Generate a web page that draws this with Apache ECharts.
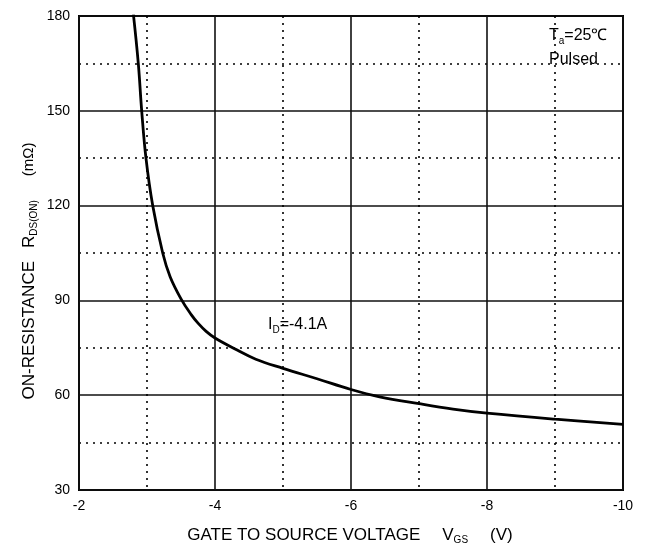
<!DOCTYPE html>
<html><head><meta charset="utf-8">
<script src="https://cdn.jsdelivr.net/npm/echarts@6/dist/echarts.min.js"></script>
<style>html,body{margin:0;padding:0;background:#fff}#c{width:645px;height:550px}</style>
</head><body><div id="c"></div>
<script>
const vgs = [-2.80, -2.872, -2.922, -2.985, -3.084, -3.231, -3.34, -3.50, -3.65, -3.75, -3.87, -4.0, -4.28, -4.6, -5, -5.5, -6, -6.42, -7, -7.5, -8, -9, -10];
const rds = [180.5, 165, 150, 135, 120, 105, 97.5, 90.5, 85.5, 82.8, 80.2, 78.1, 74.8, 71.4, 68.5, 65.2, 61.8, 59.5, 57.3, 55.6, 54.3, 52.4, 50.8];
const xTicks = [-2, -4, -6, -8, -10];
const yTicks = [30, 60, 90, 120, 150, 180];

const F = 'Liberation Sans, Arial, sans-serif';
const sub = {fontFamily: F, fontSize: 10, fill: '#000', color: '#000', padding: [11, 0, 0, 0]};
const chart = echarts.init(document.getElementById('c'), null, {renderer: 'canvas'});
chart.setOption({
  animation: false,
  backgroundColor: '#fff',
  grid: {left: 79, right: 22, top: 16, bottom: 60, show: true, borderColor: '#000', borderWidth: 2},
  xAxis: {
    type: 'value', min: xTicks[xTicks.length - 1], max: xTicks[0], interval: 2, inverse: true,
    axisLine: {show: false}, axisTick: {show: false},
    axisLabel: {color: '#000', fontFamily: F, fontSize: 14, margin: 9},
    splitLine: {show: true, lineStyle: {color: '#111', width: 1.6}},
    minorTick: {show: false, splitNumber: 2},
    minorSplitLine: {show: true, lineStyle: {color: '#000', width: 1.6, type: [2, 5]}}
  },
  yAxis: {
    type: 'value', min: yTicks[0], max: yTicks[yTicks.length - 1], interval: 30,
    axisLine: {show: false}, axisTick: {show: false},
    axisLabel: {color: '#000', fontFamily: F, fontSize: 14, margin: 9},
    splitLine: {show: true, lineStyle: {color: '#111', width: 1.6}},
    minorTick: {show: false, splitNumber: 2},
    minorSplitLine: {show: true, lineStyle: {color: '#000', width: 1.6, type: [2, 5]}}
  },
  series: [{
    type: 'line', smooth: 0.4, showSymbol: false, symbol: 'none',
    lineStyle: {color: '#000', width: 2.8},
    data: vgs.map((v, i) => [v, rds[i]])
  }],
  graphic: [
    {type: 'text', x: 350, y: 535, style: {
      text: '{t|GATE TO SOURCE VOLTAGE}{g|V}{s|GS}{g|(V)}', align: 'center', verticalAlign: 'middle',
      rich: {t: {fontFamily: F, fontSize: 17, fill: '#000'}, g: {fontFamily: F, fontSize: 17, fill: '#000', padding: [0, 0, 0, 22]}, s: sub}
    }},
    {type: 'text', x: 29, y: 271, rotation: Math.PI / 2, style: {
      text: '{t|ON-RESISTANCE}{g|R}{s|DS(ON)}{h|(mΩ)}', align: 'center', verticalAlign: 'middle',
      rich: {t: {fontFamily: F, fontSize: 17, fill: '#000'}, g: {fontFamily: F, fontSize: 17, fill: '#000', padding: [0, 0, 0, 13]},
             h: {fontFamily: F, fontSize: 15, fill: '#000', padding: [0, 0, 0, 24]}, s: sub}
    }},
    {type: 'text', x: 549, y: 36, style: {
      text: '{t|T}{s|a}{t|=25℃}', align: 'left', verticalAlign: 'middle',
      rich: {t: {fontFamily: F, fontSize: 16, fill: '#000'}, s: sub}
    }},
    {type: 'text', x: 549, y: 60, style: {text: 'Pulsed', fontFamily: F, fontSize: 16, fill: '#000', align: 'left', verticalAlign: 'middle'}},
    {type: 'text', x: 268, y: 325, style: {
      text: '{t|I}{s|D}{t|=-4.1A}', align: 'left', verticalAlign: 'middle',
      rich: {t: {fontFamily: F, fontSize: 16, fill: '#000'}, s: sub}
    }}
  ]
});
</script></body></html>
